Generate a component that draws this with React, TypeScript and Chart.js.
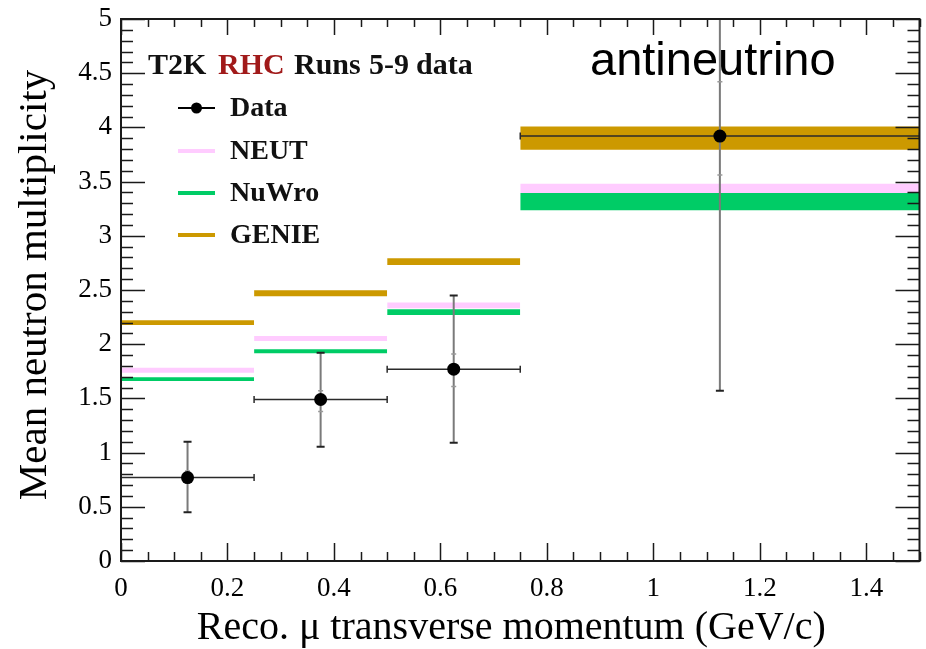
import { useEffect, useRef } from 'react';
import { Chart, registerables } from 'chart.js';

Chart.register(...registerables);

// ---- data ----
const binLow = [0, 0.25, 0.5, 0.75];
const binHigh = [0.25, 0.5, 0.75, 1.5];
const dataX = [0.125, 0.375, 0.625, 1.125];
const dataY = [0.77, 1.49, 1.77, 3.92];
const statLow = [0.45, 1.055, 1.09, 1.57];
const statHigh = [1.1, 1.92, 2.45, 5.3];
const systLow = [0.72, 1.38, 1.61, 3.56];
const systHigh = [0.83, 1.57, 1.91, 4.42];

const genieLow = [2.176, 2.442, 2.73, 3.794];
const genieHigh = [2.222, 2.497, 2.794, 4.008];
const neutLow = [1.737, 2.029, 2.332, 3.394];
const neutHigh = [1.783, 2.075, 2.384, 3.481];
const nuwroLow = [1.66, 1.916, 2.27, 3.235];
const nuwroHigh = [1.694, 1.953, 2.323, 3.394];

const xMin = 0;
const xMax = 1.5;
const yMin = 0;
const yMax = 5;
const xMajorStep = 0.2;
const xMinorStep = 0.05;
const yMajorStep = 0.5;
const yMinorStep = 0.1;

const headerWords = ['T2K', 'RHC', 'Runs', '5-9', 'data'];
const legendNames = ['Data', 'NEUT', 'NuWro', 'GENIE'];

const COL_GENIE = '#cc9900';
const COL_NEUT = '#ffccff';
const COL_NUWRO = '#00cc66';
const COL_RHC = '#a11a1a';

const SERIF = '"Liberation Serif", "DejaVu Serif", serif';
const SANS = '"Liberation Sans", Arial, sans-serif';

function bandDatasets(lows: number[], highs: number[], color: string, order: number) {
  return lows.map((lo, i) => ({
    type: 'line' as const,
    data: [
      { x: binLow[i], y: highs[i] },
      { x: binHigh[i], y: highs[i] },
    ],
    borderColor: 'rgba(0,0,0,0)',
    borderWidth: 0,
    pointRadius: 0,
    backgroundColor: color,
    fill: { value: lo },
    order,
  }));
}

function shiftTitle(scale: any, dx: number, dy: number) {
  if (scale.__shifted) return;
  const orig = scale.drawTitle.bind(scale);
  scale.drawTitle = function () {
    const ctx = scale.ctx;
    ctx.save();
    ctx.translate(dx, dy);
    orig();
    ctx.restore();
  };
  scale.__shifted = true;
}

const frameTicks = {
  id: 'frameTicks',
  beforeDraw(chart: any) {
    shiftTitle(chart.scales.x, -9, 0);
    shiftTitle(chart.scales.y, 0, -5);
  },
  afterDatasetsDraw(chart: any) {
    const { ctx, chartArea, scales } = chart;
    const { left, right, top, bottom } = chartArea;
    const xs = scales.x;
    const ys = scales.y;
    ctx.save();
    ctx.strokeStyle = '#1a1a1a';
    ctx.lineWidth = 1.5;
    ctx.beginPath();
    const nY = Math.round((yMax - yMin) / yMinorStep);
    const perY = Math.round(yMajorStep / yMinorStep);
    for (let i = 0; i <= nY; i++) {
      const v = yMin + i * yMinorStep;
      const py = Math.round(ys.getPixelForValue(v)) + 0.5;
      const major = i % perY === 0;
      const len = major ? 24 : 12;
      ctx.moveTo(left, py);
      ctx.lineTo(left + len, py);
      ctx.moveTo(right, py);
      ctx.lineTo(right - len, py);
    }
    const nX = Math.round((xMax - xMin) / xMinorStep);
    const perX = Math.round(xMajorStep / xMinorStep);
    for (let i = 0; i <= nX; i++) {
      const v = xMin + i * xMinorStep;
      const px = Math.round(xs.getPixelForValue(v)) + 0.5;
      const major = i % perX === 0;
      ctx.moveTo(px, bottom);
      ctx.lineTo(px, bottom - (major ? 18 : 9));
      ctx.moveTo(px, top);
      ctx.lineTo(px, top + (major ? 16 : 8));
    }
    ctx.stroke();
    ctx.lineWidth = 2;
    ctx.strokeRect(left, top, right - left, bottom - top);
    ctx.restore();
  },
  afterDraw(chart: any) {
    const { ctx } = chart;
    ctx.save();
    ctx.textBaseline = 'alphabetic';
    ctx.textAlign = 'left';
    ctx.font = `bold 30px ${SERIF}`;
    const headerX = [148, 218, 294, 369, 416];
    headerWords.forEach((w, i) => {
      ctx.fillStyle = i === 1 ? COL_RHC : '#111';
      ctx.fillText(w, headerX[i], 74);
    });

    ctx.font = `bold 28px ${SERIF}`;
    const baselines = [116, 159, 201, 243];
    const sampleColors = ['#000', COL_NEUT, COL_NUWRO, COL_GENIE];
    legendNames.forEach((name, i) => {
      const by = baselines[i];
      const ly = by - 8;
      ctx.beginPath();
      ctx.strokeStyle = sampleColors[i];
      ctx.lineWidth = i === 0 ? 2 : 4;
      ctx.moveTo(178, ly);
      ctx.lineTo(215, ly);
      ctx.stroke();
      if (i === 0) {
        ctx.beginPath();
        ctx.fillStyle = '#000';
        ctx.arc(196.5, ly, 5.5, 0, Math.PI * 2);
        ctx.fill();
      }
      ctx.fillStyle = '#111';
      ctx.fillText(name, 230, by);
    });

    ctx.font = `47px ${SANS}`;
    ctx.fillStyle = '#000';
    ctx.fillText('antineutrino', 590, 75);
    ctx.restore();
  },
};

export default function App() {
  const ref = useRef<HTMLCanvasElement | null>(null);
  useEffect(() => {
    if (!ref.current) return;
    const datasets: any[] = [];
    datasets.push({
      type: 'line',
      data: dataX.map((x, i) => ({ x, y: dataY[i] })),
      showLine: false,
      pointRadius: 6.5,
      pointBackgroundColor: '#000',
      pointBorderColor: '#000',
      pointBorderWidth: 0,
      order: 0,
    });
    dataX.forEach((x, i) => {
      datasets.push({
        type: 'line',
        data: [
          { x: binLow[i], y: dataY[i] },
          { x: binHigh[i], y: dataY[i] },
        ],
        borderColor: '#2a2a2a',
        borderWidth: 1.5,
        pointStyle: 'line',
        rotation: 90,
        pointRadius: 3.5,
        pointBorderColor: '#2a2a2a',
        pointBorderWidth: 1.5,
        order: 1,
      });
      datasets.push({
        type: 'line',
        data: [
          { x, y: statLow[i] },
          { x, y: statHigh[i] },
        ],
        borderColor: '#7a7a7a',
        borderWidth: 2,
        pointStyle: 'line',
        pointRadius: 4,
        pointBorderColor: '#222',
        pointBorderWidth: 2,
        order: 1,
      });
    });
    datasets.push({
      type: 'line',
      data: dataX.flatMap((x, i) => [
        { x, y: systLow[i] },
        { x, y: systHigh[i] },
      ]),
      showLine: false,
      pointStyle: 'line',
      pointRadius: 2.5,
      pointBorderColor: '#9a9a9a',
      pointBorderWidth: 1.5,
      order: 0.5,
    });
    datasets.push(...bandDatasets(nuwroLow, nuwroHigh, COL_NUWRO, 2));
    datasets.push(...bandDatasets(neutLow, neutHigh, COL_NEUT, 3));
    datasets.push(...bandDatasets(genieLow, genieHigh, COL_GENIE, 4));

    const tickFont = { family: SERIF, size: 27 };
    const chart = new Chart(ref.current, {
      type: 'line',
      data: { datasets },
      plugins: [frameTicks],
      options: {
        animation: false,
        responsive: false,
        events: [],
        layout: { padding: { top: 19, right: 6, left: 0, bottom: 0 } },
        plugins: { legend: { display: false }, tooltip: { enabled: false } },
        scales: {
          x: {
            type: 'linear',
            min: xMin,
            max: xMax,
            grid: { display: false, drawTicks: false },
            border: { display: false },
            ticks: {
              stepSize: xMajorStep,
              includeBounds: false,
              autoSkip: false,
              maxRotation: 0,
              padding: 12,
              color: '#000',
              font: tickFont,
              callback: (v: any) => String(Number(Number(v).toFixed(2))),
            },
            title: {
              display: true,
              text: 'Reco. μ transverse momentum (GeV/c)',
              color: '#000',
              font: { family: SERIF, size: 40, lineHeight: 1 },
              padding: { top: 0, bottom: 1 },
            },
            afterFit: (s: any) => {
              s.height = 88;
              s.paddingLeft = 0;
              s.paddingRight = 0;
            },
          },
          y: {
            type: 'linear',
            min: yMin,
            max: yMax,
            grid: { display: false, drawTicks: false },
            border: { display: false },
            ticks: {
              stepSize: yMajorStep,
              autoSkip: false,
              padding: 9,
              color: '#000',
              font: tickFont,
              callback: (v: any) => String(Number(Number(v).toFixed(2))),
            },
            title: {
              display: true,
              text: 'Mean neutron multiplicity',
              color: '#000',
              font: { family: SERIF, size: 41, lineHeight: 1 },
              padding: { top: 15, bottom: 0 },
            },
            afterFit: (s: any) => {
              s.width = 121;
              s.paddingTop = 0;
              s.paddingBottom = 0;
            },
          },
        },
      },
    });
    return () => chart.destroy();
  }, []);
  return (
    <div style={{ position: 'fixed', left: 0, top: 0, width: 926, height: 649, background: '#fff' }}>
      <canvas ref={ref} width={926} height={649} />
    </div>
  );
}
